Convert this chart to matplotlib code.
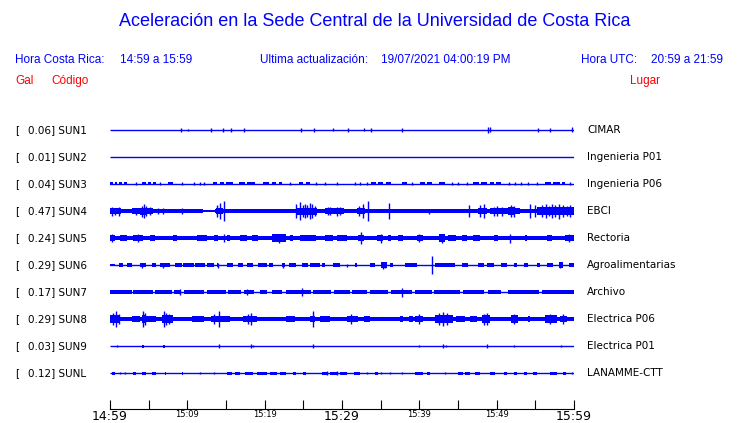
import matplotlib
matplotlib.use('Agg')
import matplotlib.pyplot as plt

# estaciones, lugar y valor pico (Gal)
stations = ['SUN1', 'SUN2', 'SUN3', 'SUN4', 'SUN5', 'SUN6', 'SUN7', 'SUN8', 'SUN9', 'SUNL']
places = ['CIMAR', 'Ingenieria P01', 'Ingenieria P06', 'EBCI', 'Rectoria',
          'Agroalimentarias', 'Archivo', 'Electrica P06', 'Electrica P01', 'LANAMME-CTT']
peak_gal = [0.06, 0.01, 0.04, 0.47, 0.24, 0.29, 0.17, 0.29, 0.03, 0.12]

tick_minutes = [0, 10, 20, 30, 40, 50, 60]
tick_labels = ['14:59', '15:09', '15:19', '15:29', '15:39', '15:49', '15:59']

# amplitud de fondo de cada traza (media altura)
base_amp = [0.5, 0.5, 0.5, 1.0, 2.0, 0.5, 0.5, 2.0, 0.5, 0.5]

# tramos con mas ruido: (minuto inicio, minuto fin, media altura)
blocks_sun1 = []
blocks_sun2 = []
blocks_sun3 = [(0, 0.4, 1.5), (0.6, 0.9, 1.5), (1.1, 1.5, 1.5), (1.8, 2.2, 1.5), (4.1, 4.6, 1.5),
               (4.9, 5.3, 1.5), (5.6, 6.0, 1.5), (7.5, 8.2, 1.5), (13.3, 13.9, 1.5), (14.2, 14.7, 1.5),
               (15.0, 15.9, 1.5), (16.7, 17.4, 1.5), (17.7, 18.8, 1.5), (19.8, 20.6, 1.5), (20.9, 21.5, 1.5),
               (21.8, 22.2, 1.5), (24.4, 25.0, 1.5), (25.3, 25.9, 1.5), (33.8, 34.4, 1.5), (34.7, 35.3, 1.5),
               (35.7, 36.4, 1.5), (37.7, 38.4, 1.5), (40.1, 40.7, 1.5), (41.0, 41.6, 1.5), (42.5, 43.3, 1.5),
               (47.0, 47.7, 1.5), (48.0, 48.8, 1.5), (49.1, 49.6, 1.5), (49.9, 50.6, 1.5), (56.3, 57.0, 1.5),
               (57.3, 58.2, 1.5), (58.4, 58.8, 1.5)]
blocks_sun4 = [(0, 12.0, 2.0), (13.6, 60, 2.0), (0, 1.4, 3.0), (2.9, 3.9, 2.6), (3.9, 4.7, 3.5),
               (4.7, 5.6, 3.0), (13.7, 14.6, 3.2), (24.0, 26.8, 3.5), (27.8, 30.2, 3.0), (31.9, 33.0, 3.2),
               (47.6, 48.7, 3.2), (49.1, 53.0, 3.0), (51.5, 52.4, 3.6), (55.2, 60, 3.6)]
blocks_sun5 = [(0, 0.65, 3.3), (1.3, 2.2, 3.3), (3.0, 4.3, 3.3), (5.2, 5.8, 3.3), (8.2, 8.6, 3.3),
               (11.2, 12.5, 3.3), (13.4, 14.0, 3.3), (15.1, 15.5, 3.3), (16.8, 17.7, 3.3), (18.3, 19.2, 3.3),
               (20.9, 22.8, 3.6), (23.3, 23.7, 3.3), (24.6, 26.7, 3.3), (27.8, 28.9, 3.3), (29.3, 30.6, 3.3),
               (32.1, 32.8, 3.3), (34.5, 35.3, 3.3), (36.0, 36.4, 3.3), (37.3, 37.9, 3.3), (39.7, 40.5, 3.3),
               (42.5, 43.3, 3.6), (43.7, 44.8, 3.3), (45.5, 46.1, 3.3), (47.0, 47.8, 3.3), (49.6, 50.2, 3.3),
               (53.7, 53.9, 3.3), (56.5, 57.1, 3.3), (58.8, 60, 3.3)]
blocks_sun6 = [(0, 0.65, 1.3), (1.1, 1.7, 1.6), (2.2, 2.8, 1.6), (3.9, 4.7, 2.2), (5.4, 6.0, 1.6),
               (6.5, 7.3, 2.2), (7.3, 7.8, 1.6), (8.4, 9.3, 1.6), (9.5, 10.8, 1.6), (11.0, 12.3, 1.6),
               (12.5, 13.4, 1.6), (13.8, 14.0, 2.0), (15.1, 15.9, 1.6), (16.6, 17.2, 1.6), (17.7, 18.5, 1.6),
               (19.2, 20.3, 1.6), (20.5, 21.1, 2.0), (22.2, 22.6, 2.2), (23.1, 24.1, 1.6), (24.8, 25.6, 1.6),
               (25.9, 27.2, 1.6), (27.4, 27.8, 1.6), (28.9, 29.7, 1.6), (31.7, 31.9, 1.6), (33.6, 34.3, 1.6),
               (35.1, 35.8, 2.6), (36.2, 36.6, 1.6), (38.1, 39.7, 1.6), (42.0, 44.6, 1.6), (45.5, 46.3, 1.6),
               (47.6, 48.3, 1.6), (48.7, 49.6, 1.6), (50.6, 51.3, 1.6), (52.2, 52.6, 1.6), (53.5, 54.1, 1.6),
               (55.2, 55.6, 1.6), (56.5, 57.3, 1.6), (58.0, 58.6, 2.6), (59.3, 60, 1.6)]
blocks_sun7 = [(0, 2.8, 2.0), (3.0, 5.5, 2.0), (5.8, 8.0, 2.0), (8.3, 9.0, 2.0), (9.6, 12.2, 2.0),
               (12.5, 15.0, 2.0), (15.3, 17.0, 2.0), (17.3, 18.6, 2.0), (19.4, 20.3, 2.0), (20.9, 22.2, 2.0),
               (22.8, 26.0, 2.0), (26.2, 28.6, 2.0), (29.0, 31.0, 2.0), (31.3, 33.2, 2.0), (33.6, 36.0, 2.0),
               (36.3, 39.0, 2.0), (39.4, 41.6, 2.0), (41.9, 45.2, 2.0), (45.7, 48.3, 2.0), (48.9, 50.6, 2.0),
               (51.5, 55.5, 2.0), (55.8, 60, 2.0)]
blocks_sun8 = [(0, 1.3, 3.8), (2.8, 3.9, 2.8), (4.1, 4.7, 4.2), (4.7, 6.0, 3.0), (6.7, 8.2, 3.8),
               (10.6, 12.1, 2.8), (13.1, 14.2, 3.4), (14.2, 15.5, 2.8), (17.2, 19.0, 3.3), (22.8, 23.9, 2.8),
               (25.9, 26.5, 3.4), (27.2, 28.4, 2.8), (30.6, 32.1, 3.4), (32.8, 33.6, 2.8), (37.5, 37.9, 2.8),
               (38.6, 39.2, 2.8), (39.4, 40.5, 3.4), (42.0, 44.4, 4.0), (44.8, 45.9, 2.8), (46.6, 47.4, 3.4),
               (48.1, 49.1, 3.8), (51.9, 52.8, 3.8), (54.1, 54.3, 2.8), (56.3, 57.8, 3.8), (58.2, 59.1, 3.4)]
blocks_sun9 = [(4.2, 4.45, 1.5), (6.9, 7.15, 1.5)]
blocks_sunl = [(0.2, 0.65, 1.5), (3.0, 3.4, 1.5), (4.1, 4.7, 1.5), (5.4, 6.0, 1.5), (7.1, 7.3, 1.5),
               (9.3, 9.5, 1.5), (15.1, 15.8, 1.5), (16.1, 16.8, 1.5), (17.5, 18.5, 1.5), (19.0, 20.3, 1.5),
               (20.7, 21.6, 1.5), (22.0, 22.8, 1.5), (23.7, 24.1, 1.5), (25.0, 25.4, 1.5), (27.4, 28.2, 1.5),
               (28.5, 29.3, 1.5), (29.7, 30.6, 1.5), (31.5, 32.3, 1.5), (34.3, 34.7, 1.5), (39.4, 40.5, 1.5),
               (41.0, 41.4, 1.5), (45.0, 45.7, 1.5), (45.9, 46.6, 1.5), (47.2, 47.8, 1.5), (49.1, 49.8, 1.5),
               (50.9, 51.3, 1.5), (52.2, 52.6, 1.5), (53.5, 53.9, 1.5), (54.7, 55.2, 1.5), (56.9, 57.8, 1.5),
               (58.6, 59.0, 1.5)]

# picos aislados: (minuto, media altura)
spikes_sun1 = [(9.2, 2), (10.1, 1.2), (13.0, 2), (14.6, 2), (15.7, 2), (17.3, 2), (24.7, 2), (26.4, 2),
               (28.9, 1.5), (30.8, 2), (32.8, 1.5), (33.75, 2), (37.7, 2), (48.9, 3), (49.1, 2.5),
               (55.4, 2), (56.9, 2), (59.7, 2.5)]
spikes_sun2 = []
spikes_sun3 = [(3.4, 1.5), (6.5, 1.5), (9.3, 1.5), (10.8, 1.5), (11.6, 1.5), (12.2, 1.5), (23.3, 1.5),
               (26.7, 1.5), (27.8, 1.5), (29.3, 1.5), (31.7, 1.5), (32.3, 1.5), (33.2, 1.5), (39.1, 1.5),
               (44.2, 1.5), (45.0, 1.5), (46.1, 1.5), (51.6, 1.5), (52.4, 1.5), (53.2, 1.5), (54.1, 1.5),
               (55.2, 1.5), (59.5, 1.5)]
spikes_sun4 = [(0.2, 4.5), (0.6, 3.5), (1.2, 4.5), (3.3, 3.5), (4.2, 5.5), (4.4, 6.7), (4.6, 5), (5.2, 4),
               (6.25, 3), (6.9, 3), (9.3, 3), (13.9, 6), (14.2, 8), (14.7, 10), (24.1, 7), (24.6, 9),
               (25.0, 6), (25.2, 7), (25.5, 6), (25.8, 8), (26.1, 7), (26.5, 5), (28.2, 4), (28.5, 4),
               (29.3, 4.5), (29.7, 4), (32.2, 5), (32.7, 7), (33.4, 10), (36.1, 8), (41.2, 2.5), (46.4, 6),
               (47.9, 6), (48.4, 7), (49.6, 4.5), (50.0, 5), (50.7, 4.5), (51.8, 6), (52.2, 5.5), (54.3, 7),
               (55.0, 6), (55.8, 6), (56.4, 7), (56.8, 5), (57.1, 7), (57.5, 6), (58.1, 7.5), (58.6, 6),
               (59.1, 5), (59.5, 6)]
spikes_sun5 = [(0.3, 4), (3.6, 4), (14.8, 4), (21.8, 4.5), (32.5, 6), (35.0, 4.5), (40.0, 4), (42.9, 4.5),
               (51.7, 4.5), (59.4, 4)]
spikes_sun6 = [(4.2, 2.5), (6.8, 2.5), (14.0, 2.5), (22.4, 2.5), (30.6, 1.5), (35.3, 3.5), (35.6, 3),
               (41.7, 9), (58.2, 3.2)]
spikes_sun7 = [(9.0, 2.8), (17.7, 3), (24.8, 4), (37.7, 4.5)]
spikes_sun8 = [(0.4, 6), (0.8, 8), (1.1, 5), (4.3, 8), (4.5, 6), (7.0, 8), (7.3, 6), (7.6, 5), (13.5, 5),
               (14.1, 8), (17.8, 5), (18.2, 6), (26.3, 8), (31.2, 5), (40.0, 5), (42.6, 6), (43.1, 7),
               (43.6, 6), (48.4, 5.5), (48.7, 6), (52.3, 5), (56.9, 5), (58.6, 5)]
spikes_sun9 = [(0.9, 1.2), (14.1, 1.6), (18.2, 1.6), (18.5, 1.0), (26.3, 1.6), (39.9, 1.3), (43.1, 1.6),
               (43.5, 1.2), (48.7, 1.6), (52.2, 1.2), (58.3, 1.3)]
spikes_sunl = [(1.3, 1.3), (1.9, 1.3), (11.6, 1.3), (13.4, 1.3), (28.0, 1.8), (29.3, 2.2), (33.2, 1.3),
               (35.1, 1.3), (36.2, 1.3), (37.7, 1.3), (43.3, 1.3), (59.7, 1.3)]

blocks = [blocks_sun1, blocks_sun2, blocks_sun3, blocks_sun4, blocks_sun5,
          blocks_sun6, blocks_sun7, blocks_sun8, blocks_sun9, blocks_sunl]
spikes = [spikes_sun1, spikes_sun2, spikes_sun3, spikes_sun4, spikes_sun5,
          spikes_sun6, spikes_sun7, spikes_sun8, spikes_sun9, spikes_sunl]

W, H = 740, 423
BLUE = '#0000ff'
fig = plt.figure(figsize=(W / 100, H / 100), dpi=100)


def fx(px):
    return px / W


def fy(py):
    return 1 - py / H


# eje en coordenadas de pixel verticales, minutos en horizontal
ax = fig.add_axes([fx(110), fy(409), fx(574) - fx(110), fy(118) - fy(409)])
ax.set_xlim(0, 60)
ax.set_ylim(409, 118)

for i in range(len(stations)):
    y0 = 130 + 27 * i
    b = base_amp[i]
    if b <= 0.6:
        ax.hlines(y0, 0, 60, colors=BLUE, linewidth=1.0, snap=True)
    else:
        ax.broken_barh([(0, 60)], (y0 - b, 2 * b), facecolors=BLUE, edgecolor='none', antialiased=False)
    for t0, t1, h in blocks[i]:
        ax.broken_barh([(t0, t1 - t0)], (y0 - h, 2 * h), facecolors=BLUE, edgecolor='none',
                       antialiased=False)
    if spikes[i]:
        ts = [s[0] for s in spikes[i]]
        hs = [s[1] for s in spikes[i]]
        ax.vlines(ts, [y0 - a for a in hs], [y0 + a for a in hs], colors=BLUE, linewidth=1.0,
                  snap=True)

    fig.text(fx(15), fy(y0), '[', fontsize=7.5, va='center', ha='left', family='DejaVu Sans')
    fig.text(fx(27.5), fy(y0), f'{peak_gal[i]:.2f}] {stations[i]}', fontsize=7.5,
             va='center', ha='left', family='DejaVu Sans')
    fig.text(fx(587), fy(y0), places[i], fontsize=7.5, va='center', ha='left', family='DejaVu Sans')

for s in ['left', 'right', 'top']:
    ax.spines[s].set_visible(False)
ax.spines['bottom'].set_linewidth(0.8)
ax.set_yticks([])
ax.set_xticks(tick_minutes)
ax.set_xticks([5, 15, 25, 35, 45, 55], minor=True)
ax.set_xticklabels(tick_labels)
ax.tick_params(which='both', direction='in', length=6.5, width=0.8, pad=0.5)
for lab, m in zip(ax.get_xticklabels(), tick_minutes):
    lab.set_fontsize(9 if m % 30 == 0 else 6)
    lab.set_family('DejaVu Sans')

# encabezados
hf = 'Liberation Sans'
fig.text(fx(375), fy(22), 'Aceleración en la Sede Central de la Universidad de Costa Rica',
         fontsize=13, color=BLUE, ha='center', va='center', family=hf)
fig.text(fx(15), fy(60), 'Hora Costa Rica:', fontsize=8.5, color=BLUE, va='center', family=hf)
fig.text(fx(120), fy(60), '14:59 a 15:59', fontsize=8.5, color=BLUE, va='center', family=hf)
fig.text(fx(260), fy(60), 'Ultima actualización:', fontsize=8.5, color=BLUE, va='center', family=hf)
fig.text(fx(381), fy(60), '19/07/2021 04:00:19 PM', fontsize=8.5, color=BLUE, va='center', family=hf)
fig.text(fx(581), fy(60), 'Hora UTC:', fontsize=8.5, color=BLUE, va='center', family=hf)
fig.text(fx(651), fy(60), '20:59 a 21:59', fontsize=8.5, color=BLUE, va='center', family=hf)
fig.text(fx(15), fy(81), 'Gal', fontsize=8.5, color='red', va='center', family=hf)
fig.text(fx(51), fy(81), 'Código', fontsize=8.5, color='red', va='center', family=hf)
fig.text(fx(630), fy(81), 'Lugar', fontsize=8.5, color='red', va='center', family=hf)

fig.savefig('out.png', dpi=100)
